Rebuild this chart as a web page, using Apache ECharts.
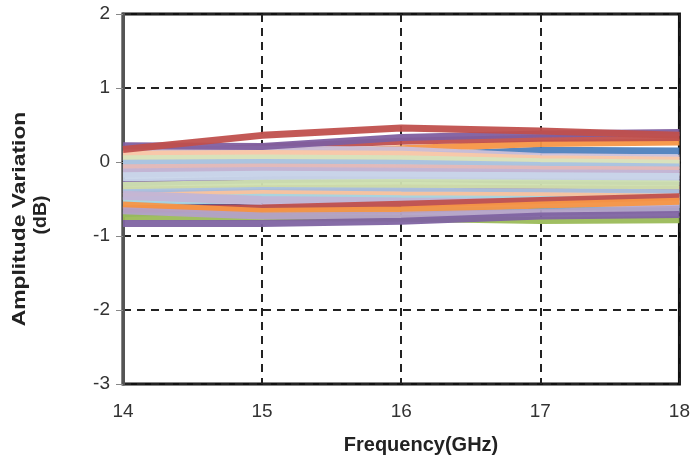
<!DOCTYPE html>
<html>
<head>
<meta charset="utf-8">
<script src="https://cdn.jsdelivr.net/npm/echarts@6/dist/echarts.min.js"></script>
<style>
  html, body { margin: 0; padding: 0; background: #fff; }
  #chart { width: 693px; height: 460px; }
</style>
</head>
<body>
<div id="chart"></div>
<script>
var FREQ = [14, 15, 16, 17, 18];
var X_TICKS = [14, 15, 16, 17, 18];
var Y_TICKS = [-3, -2, -1, 0, 1, 2];

// channel curves (dB at 14..18 GHz), drawn back to front
var BACK = [
    [0.00, 0.03, 0.08, 0.16, 0.15],
    [0.05, 0.10, 0.18, 0.25, 0.27],
    [0.10, 0.20, 0.28, 0.32, 0.33],
    [-0.28, -0.24, -0.22, -0.25, -0.27],
    [-0.38, -0.36, -0.35, -0.36, -0.37],
    [-0.58, -0.62, -0.60, -0.58, -0.57],
    [-0.70, -0.64, -0.62, -0.60, -0.62]
];
var BACK_COLORS = ['#4F81BD', '#F79646', '#C0504D', '#8064A2', '#C0504D', '#604A7B', '#4BACC6'];

var PASTEL = [
    [0.15, 0.16, 0.15, 0.06, 0.04],
    [0.09, 0.10, 0.09, 0.03, 0.01],
    [0.03, 0.04, 0.03, -0.01, -0.03],
    [-0.03, -0.02, -0.03, -0.06, -0.08],
    [-0.09, -0.08, -0.09, -0.11, -0.12],
    [-0.15, -0.13, -0.14, -0.16, -0.17],
    [-0.20, -0.18, -0.19, -0.20, -0.21],
    [-0.33, -0.30, -0.29, -0.30, -0.31],
    [-0.43, -0.40, -0.41, -0.42, -0.43],
    [-0.48, -0.44, -0.46, -0.47, -0.49],
    [-0.53, -0.49, -0.51, -0.52, -0.53],
    [-0.45, -0.52, -0.54, -0.55, -0.56]
];
var PASTEL_COLORS = ['#CCC1DA', '#FAC8A8', '#D7E4BD', '#A9C2E2', '#E6B9B8', '#C2B5D6',
    '#C9D6EA', '#CFE0B0', '#A9C2E2', '#F9C39E', '#A5D5E2', '#C2B5D6'];

var FRONT = [
    [0.22, 0.21, 0.33, 0.38, 0.40],
    [0.17, 0.36, 0.46, 0.42, 0.36],
    [-0.64, -0.62, -0.57, -0.52, -0.47],
    [-0.58, -0.67, -0.65, -0.58, -0.53],
    [-0.74, -0.75, -0.76, -0.79, -0.78],
    [-0.66, -0.73, -0.72, -0.68, -0.64],
    [-0.83, -0.83, -0.80, -0.73, -0.71]
];
var FRONT_COLORS = ['#7F5FA0', '#C0504D', '#C0504D', '#F79646', '#9BBB59', '#B3A2C7', '#8064A2'];

var chart = echarts.init(document.getElementById('chart'));

function makeSeries(rows, colors, width) {
    var out = [];
    rows.forEach(function (row, i) {
        out.push({
            type: 'line',
            data: FREQ.map(function (f, k) { return [f, row[k]]; }),
            symbol: 'none',
            lineStyle: { width: width, color: colors[i % colors.length], opacity: 0.95 },
            emphasis: { disabled: true },
            silent: true
        });
    });
    return out;
}

var series = makeSeries(BACK, BACK_COLORS, 7)
    .concat(makeSeries(PASTEL, PASTEL_COLORS, 9))
    .concat(makeSeries(FRONT, FRONT_COLORS, 7));

chart.setOption({
    animation: false,
    grid: {
        left: 123, right: 10, top: 14, bottom: 76,
        show: true, borderColor: '#111', borderWidth: 3
    },
    xAxis: {
        type: 'value',
        min: X_TICKS[0], max: X_TICKS[X_TICKS.length - 1], interval: 1,
        axisLine: { lineStyle: { color: '#111', width: 3 } },
        axisTick: { show: false },
        axisLabel: { color: '#333', fontSize: 19, fontFamily: 'Liberation Sans, Arial', margin: 18 },
        splitLine: { show: true, lineStyle: { color: '#222', width: 2, type: [8, 6] } }
    },
    yAxis: {
        type: 'value',
        min: Y_TICKS[0], max: Y_TICKS[Y_TICKS.length - 1], interval: 1,
        axisLine: { show: true, lineStyle: { color: '#555', width: 3 } },
        axisTick: { show: true, length: 7, lineStyle: { color: '#888', width: 1 } },
        axisLabel: { color: '#333', fontSize: 19, fontFamily: 'Liberation Sans, Arial', margin: 13 },
        splitLine: { show: true, lineStyle: { color: '#222', width: 2, type: [8, 6] } }
    },
    graphic: [
        {
            type: 'text', x: 421, y: 445,
            style: {
                text: 'Frequency(GHz)', font: 'bold 20px "Liberation Sans", Arial', fill: '#222',
                align: 'center', verticalAlign: 'middle'
            }
        },
        {
            // the source label is stretched along its length
            type: 'text', x: 20, y: 219, rotation: Math.PI / 2, scaleX: 1.27,
            style: {
                text: 'Amplitude Variation', font: 'bold 18px "Liberation Sans", Arial',
                fill: '#222', align: 'center', verticalAlign: 'middle'
            }
        },
        {
            type: 'text', x: 41, y: 215, rotation: Math.PI / 2, scaleX: 1.08,
            style: {
                text: '(dB)', font: 'bold 18px "Liberation Sans", Arial',
                fill: '#222', align: 'center', verticalAlign: 'middle'
            }
        }
    ],
    series: series
});
</script>
</body>
</html>
